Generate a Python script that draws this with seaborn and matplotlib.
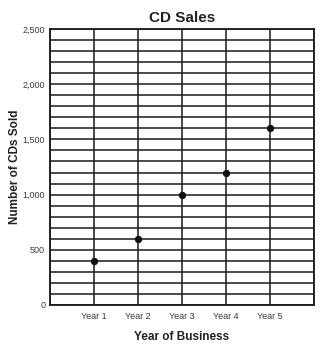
import matplotlib
matplotlib.use("Agg")
import matplotlib.pyplot as plt
import seaborn as sns
import pandas as pd
from matplotlib.ticker import MultipleLocator, FuncFormatter

years = ["Year 1", "Year 2", "Year 3", "Year 4", "Year 5"]
cds_sold = [400, 600, 1000, 1200, 1600]

sns.set_style("white")
plt.rcParams['font.family'] = ['Liberation Sans', 'DejaVu Sans']

df = pd.DataFrame({"Year": years, "CDs": cds_sold})

fig = plt.figure(figsize=(3.23, 3.44), dpi=100)
ax = fig.add_axes([50/323, 1-305/344, (314-50)/323, (305-29)/344])

sns.scatterplot(data=df, x="Year", y="CDs", ax=ax, color="#111111", s=28,
                edgecolor="#111111", linewidth=0, zorder=5)

ax.set_xlim(-1, 5)
ax.set_ylim(0, 2500)
ax.yaxis.set_major_locator(MultipleLocator(500))
ax.yaxis.set_minor_locator(MultipleLocator(100))
ax.yaxis.set_major_formatter(FuncFormatter(lambda v, p: f"{int(v):,}"))
ax.set_xticks(range(len(years)))
ax.set_xticklabels(years)
ax.xaxis.set_minor_locator(MultipleLocator(1))
ax.grid(True, which="both", color="#1a1a1a", linewidth=1.1)
ax.set_axisbelow(True)
ax.tick_params(axis="both", which="both", length=0, labelsize=6.5, colors="#3a3a3a")
ax.tick_params(axis="x", pad=5)
ax.tick_params(axis="y", pad=3.5)
for s in ax.spines.values():
    s.set_color("#1a1a1a")
    s.set_linewidth(1.3)

ax.set_title("CD Sales", fontsize=11, fontweight="bold", color="#222222", pad=5)
ax.set_xlabel("Year of Business", fontsize=8.5, fontweight="bold", color="#222222", labelpad=7)
ax.set_ylabel("Number of CDs Sold", fontsize=8.5, fontweight="bold", color="#222222", labelpad=1)

fig.savefig("out.png", dpi=100)
